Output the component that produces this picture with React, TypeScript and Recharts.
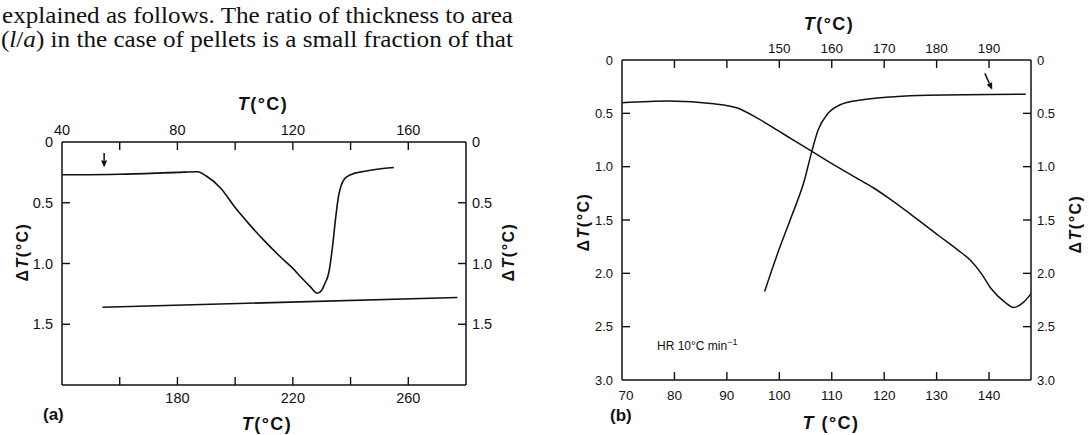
import React from "react";
import { LineChart, Line, XAxis, YAxis, ReferenceLine } from "recharts";

// panel (a): upper curve read on the top T axis, lower line on the bottom T axis
const aTopT = [40, 60, 80, 87, 90, 95, 100, 105, 110, 115, 120, 123.5, 126, 128.5, 130, 131, 132.5, 133.8, 134.8, 135.8, 136.7, 138, 140, 145, 155];
const aTopDT = [0.27, 0.265, 0.25, 0.245, 0.28, 0.38, 0.54, 0.68, 0.81, 0.93, 1.04, 1.13, 1.19, 1.245, 1.22, 1.17, 1.07, 0.85, 0.63, 0.45, 0.36, 0.3, 0.27, 0.24, 0.21];
const aBotT = [154, 277];
const aBotDT = [1.36, 1.28];
const aTopTicks = [40, 60, 80, 100, 120, 140, 160, 180];
const aTopLabels = [40, 80, 120, 160];
const aBotTicks = [140, 160, 180, 200, 220, 240, 260, 280];
const aBotLabels = [180, 220, 260];
const aYTicks = [0, 0.5, 1, 1.5, 2];
const aYLabels = [0, 0.5, 1, 1.5];
const aArrowT = 54.6;
const aArrowDT = [0.09, 0.21];

// panel (b): falling curve on the bottom T axis, rising curve on the top T axis
const bBotT = [70, 79, 87.5, 92, 96, 100, 103, 106, 111, 115, 118, 121, 125.7, 130.5, 134, 136.5, 138.5, 140.5, 143, 144.7, 146.6, 148];
const bBotDT = [0.4, 0.385, 0.41, 0.45, 0.55, 0.67, 0.76, 0.85, 1.0, 1.115, 1.2, 1.3, 1.47, 1.65, 1.78, 1.88, 2.0, 2.15, 2.27, 2.32, 2.27, 2.19];
const bTopT = [147.2, 149.7, 152.3, 154.8, 156.1, 157.4, 159.3, 161.6, 165.6, 171.9, 178.3, 197];
const bTopDT = [2.17, 1.81, 1.47, 1.125, 0.875, 0.656, 0.5, 0.42, 0.375, 0.344, 0.33, 0.32];
const bTopTicks = [120, 130, 140, 150, 160, 170, 180, 190, 198];
const bTopLabels = [150, 160, 170, 180, 190];
const bBotTicks = [70, 80, 90, 100, 110, 120, 130, 140, 148];
const bBotLabels = [70, 80, 90, 100, 110, 120, 130, 140];
const bYTicks = [0, 0.5, 1, 1.5, 2, 2.5, 3];
const bYLabels = [0, 0.5, 1, 1.5, 2, 2.5, 3];
const bArrowT = [189.2, 190.6];
const bArrowDT = [0.125, 0.28];

const toRows = (ts: number[], vs: number[]) => ts.map((t, i) => ({ t, dt: vs[i] }));

const INK = "#111";
const SANS = "'Liberation Sans', Arial, sans-serif";

const fmtY = (v: number) => (v === 0 ? "0" : v.toFixed(1));

// ticks point into the plot; labels sit outside
const makeTick =
  (side: string, labels: number[], domain: number[], fs: number, gap: number, fmt: (v: number) => string) =>
  (props: any) => {
    const { x, y, payload } = props;
    const v = payload.value;
    const len = 8;
    const end = v === domain[0] || v === domain[1];
    const lbl = labels.includes(v) ? fmt(v) : null;
    let line = null;
    let text = null;
    if (side === "left") {
      if (!end) line = <line x1={x} y1={y} x2={x + len} y2={y} stroke={INK} strokeWidth={1.4} />;
      if (lbl) text = <text x={x - gap} y={y} dy="0.36em" textAnchor="end" fontSize={fs} fill={INK} fontFamily={SANS}>{lbl}</text>;
    } else if (side === "right") {
      if (!end) line = <line x1={x} y1={y} x2={x - len} y2={y} stroke={INK} strokeWidth={1.4} />;
      if (lbl) text = <text x={x + gap} y={y} dy="0.36em" textAnchor="start" fontSize={fs} fill={INK} fontFamily={SANS}>{lbl}</text>;
    } else if (side === "top") {
      if (!end) line = <line x1={x} y1={y} x2={x} y2={y + len} stroke={INK} strokeWidth={1.4} />;
      if (lbl) text = <text x={x} y={y - gap} textAnchor="middle" fontSize={fs} fill={INK} fontFamily={SANS}>{lbl}</text>;
    } else {
      if (!end) line = <line x1={x} y1={y} x2={x} y2={y - len} stroke={INK} strokeWidth={1.4} />;
      if (lbl) text = <text x={x + (v === domain[0] ? 4 : 0)} y={y + gap + fs * 0.72} textAnchor="middle" fontSize={fs} fill={INK} fontFamily={SANS}>{lbl}</text>;
    }
    return (
      <g>
        {line}
        {text}
      </g>
    );
  };

const arrowShape = (p: any) => {
  const { x1, y1, x2, y2 } = p;
  const dx = x2 - x1;
  const dy = y2 - y1;
  const d = Math.sqrt(dx * dx + dy * dy) || 1;
  const ux = dx / d;
  const uy = dy / d;
  const bx = x2 - ux * 7;
  const by = y2 - uy * 7;
  const pts = `${x2},${y2} ${bx - uy * 3},${by + ux * 3} ${bx + uy * 3},${by - ux * 3}`;
  return (
    <g>
      <line x1={x1} y1={y1} x2={bx} y2={by} stroke={INK} strokeWidth={1.5} />
      <polygon points={pts} fill={INK} />
    </g>
  );
};

const axisLine = { stroke: INK, strokeWidth: 1.5 };

function PanelA() {
  return (
    <LineChart width={540} height={435} margin={{ top: 112, right: 44, bottom: 20, left: 32 }}>
      <XAxis xAxisId="top" orientation="top" type="number" dataKey="t" domain={[40, 180]} ticks={aTopTicks} interval={0}
        height={30} tickSize={0} tickMargin={0} tickLine={false} axisLine={axisLine} allowDataOverflow
        tick={makeTick("top", aTopLabels, [40, 180], 14.5, 7, String)} />
      <XAxis xAxisId="bot" orientation="bottom" type="number" dataKey="t" domain={[140, 280]} ticks={aBotTicks} interval={0}
        height={30} tickSize={0} tickMargin={0} tickLine={false} axisLine={axisLine} allowDataOverflow
        tick={makeTick("bottom", aBotLabels, [140, 280], 14.5, 8, String)} />
      <YAxis yAxisId="l" orientation="left" type="number" domain={[0, 2]} reversed ticks={aYTicks} interval={0}
        width={30} tickSize={0} tickMargin={0} tickLine={false} axisLine={axisLine} allowDataOverflow
        tick={makeTick("left", aYLabels, [0, 2], 14.5, 9, fmtY)} />
      <YAxis yAxisId="r" orientation="right" type="number" domain={[0, 2]} reversed ticks={aYTicks} interval={0}
        width={30} tickSize={0} tickMargin={0} tickLine={false} axisLine={axisLine} allowDataOverflow
        tick={makeTick("right", aYLabels, [0, 2], 14.5, 6, fmtY)} />
      <Line data={toRows(aTopT, aTopDT)} dataKey="dt" xAxisId="top" yAxisId="l" type="monotone" stroke={INK}
        strokeWidth={1.6} dot={false} isAnimationActive={false} />
      <Line data={toRows(aBotT, aBotDT)} dataKey="dt" xAxisId="bot" yAxisId="l" type="linear" stroke={INK}
        strokeWidth={1.6} dot={false} isAnimationActive={false} />
      <ReferenceLine xAxisId="top" yAxisId="l" segment={[{ x: aArrowT, y: aArrowDT[0] }, { x: aArrowT, y: aArrowDT[1] }]}
        shape={arrowShape} />
    </LineChart>
  );
}

function PanelB() {
  return (
    <LineChart width={529} height={435} margin={{ top: 30, right: 28, bottom: 25, left: 32 }}>
      <XAxis xAxisId="top" orientation="top" type="number" dataKey="t" domain={[120, 198]} ticks={bTopTicks} interval={0}
        height={30} tickSize={0} tickMargin={0} tickLine={false} axisLine={axisLine} allowDataOverflow
        tick={makeTick("top", bTopLabels, [120, 198], 13.5, 7, String)} />
      <XAxis xAxisId="bot" orientation="bottom" type="number" dataKey="t" domain={[70, 148]} ticks={bBotTicks} interval={0}
        height={30} tickSize={0} tickMargin={0} tickLine={false} axisLine={axisLine} allowDataOverflow
        tick={makeTick("bottom", bBotLabels, [70, 148], 13.5, 10, String)} />
      <YAxis yAxisId="l" orientation="left" type="number" domain={[0, 3]} reversed ticks={bYTicks} interval={0}
        width={30} tickSize={0} tickMargin={0} tickLine={false} axisLine={axisLine} allowDataOverflow
        tick={makeTick("left", bYLabels, [0, 3], 13, 9, fmtY)} />
      <YAxis yAxisId="r" orientation="right" type="number" domain={[0, 3]} reversed ticks={bYTicks} interval={0}
        width={30} tickSize={0} tickMargin={0} tickLine={false} axisLine={axisLine} allowDataOverflow
        tick={makeTick("right", bYLabels, [0, 3], 13, 6, fmtY)} />
      <Line data={toRows(bBotT, bBotDT)} dataKey="dt" xAxisId="bot" yAxisId="l" type="monotone" stroke={INK}
        strokeWidth={1.5} dot={false} isAnimationActive={false} />
      <Line data={toRows(bTopT, bTopDT)} dataKey="dt" xAxisId="top" yAxisId="l" type="monotone" stroke={INK}
        strokeWidth={1.5} dot={false} isAnimationActive={false} />
      <ReferenceLine xAxisId="top" yAxisId="l" segment={[{ x: bArrowT[0], y: bArrowDT[0] }, { x: bArrowT[1], y: bArrowDT[1] }]}
        shape={arrowShape} />
    </LineChart>
  );
}

const TTitle = ({ x, y, gap }: { x: number; y: number; gap?: boolean }) => (
  <text x={x} y={y} textAnchor="middle" fontFamily={SANS} fontWeight="bold" fontSize={18} fill={INK} letterSpacing={1.5}>
    <tspan fontStyle="italic">T</tspan>
    {gap ? " (°C)" : "(°C)"}
  </text>
);

const DTitle = ({ x, y }: { x: number; y: number }) => (
  <text x={x} y={y} transform={`rotate(-90 ${x} ${y})`} textAnchor="middle" dominantBaseline="central" fontFamily={SANS}
    fontWeight="bold" fontSize={16} fill={INK} letterSpacing={1.5}>
    Δ<tspan fontStyle="italic">T</tspan>(°C)
  </text>
);

export default function App() {
  return (
    <div style={{ position: "fixed", left: 0, top: 0, width: 1089, height: 435, background: "#fff" }}>
      <div style={{ position: "absolute", left: 0, top: 0 }}>
        <PanelA />
      </div>
      <div style={{ position: "absolute", left: 560, top: 0 }}>
        <PanelB />
      </div>
      <svg width={1089} height={435} style={{ position: "absolute", left: 0, top: 0, pointerEvents: "none" }}>
        <g fontFamily="'Liberation Serif', 'Times New Roman', serif" fontSize={23.5} fill={INK}>
          <text x={2} y={23} textLength={511} lengthAdjust="spacingAndGlyphs">
            explained as follows. The ratio of thickness to area
          </text>
          <text x={1} y={47} textLength={512} lengthAdjust="spacingAndGlyphs">
            (<tspan fontStyle="italic">l</tspan>/<tspan fontStyle="italic">a</tspan>) in the case of pellets is a small fraction of that
          </text>
        </g>
        <TTitle x={263} y={110} />
        <TTitle x={267} y={430} />
        <DTitle x={22} y={252} />
        <DTitle x={508} y={252} />
        <text x={43} y={420} fontFamily={SANS} fontWeight="bold" fontSize={17} fill={INK}>(a)</text>

        <TTitle x={829} y={30} />
        <TTitle x={831} y={429} gap />
        <DTitle x={583} y={222} />
        <DTitle x={1075} y={224} />
        <text x={610} y={421} fontFamily={SANS} fontWeight="bold" fontSize={17} fill={INK}>(b)</text>
        <text x={657} y={350} fontFamily={SANS} fontSize={12} fill={INK}>
          HR 10°C min
          <tspan dy={-5} fontSize={9}>−1</tspan>
        </text>
      </svg>
    </div>
  );
}
